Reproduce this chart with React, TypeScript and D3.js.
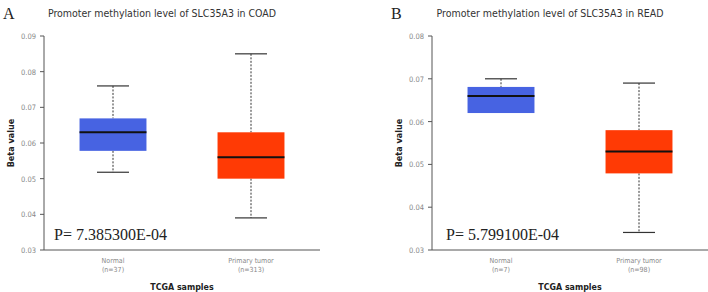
import React from "react";
import * as d3 from "d3";

const categories = ["Normal", "Primary tumor"];
const panelLetters = ["A", "B"];
const panelTitles = [
  "Promoter methylation level of SLC35A3 in COAD",
  "Promoter methylation level of SLC35A3 in READ",
];
const sampleCountsA = ["(n=37)", "(n=313)"];
const sampleCountsB = ["(n=7)", "(n=98)"];
const pValues = ["P= 7.385300E-04", "P= 5.799100E-04"];
const ticksA = [0.03, 0.04, 0.05, 0.06, 0.07, 0.08, 0.09];
const ticksB = [0.03, 0.04, 0.05, 0.06, 0.07, 0.08];
// [min, q1, median, q3, max]
const boxesA = [
  [0.0518, 0.0578, 0.0630, 0.0669, 0.0760],
  [0.0390, 0.0500, 0.0560, 0.0630, 0.0850],
];
const boxesB = [
  [0.0620, 0.0620, 0.0660, 0.0681, 0.0700],
  [0.0341, 0.0479, 0.0530, 0.0580, 0.0690],
];
const colors = ["#4763e2", "#ff3a05"];

const FONT_SANS = "'DejaVu Sans Condensed', 'DejaVu Sans', sans-serif";
const FONT_SERIF = "'Liberation Serif', 'DejaVu Serif', serif";

function Panel({ x0, letter, title, ticks, boxes, counts, pval, pX }: any) {
  const width = 276;
  const y = d3.scaleLinear().domain([ticks[0], ticks[ticks.length - 1]]).range([250, 36]);
  const x = d3.scaleBand().domain(categories).range([x0, x0 + width]).paddingInner(0.515).paddingOuter(0.2575);
  const bw = x.bandwidth();
  const capW = 32;
  return (
    <g>
      <text x={x0 - 41} y={19} fontFamily={FONT_SERIF} fontSize={16} fill="#222">{letter}</text>
      <text x={x0 + 118} y={17} textAnchor="middle" fontFamily={FONT_SANS} fontSize={10.5} fill="#333">{title}</text>
      <text transform={`translate(${x0 - 30},${143}) rotate(-90)`} textAnchor="middle" fontFamily={FONT_SANS} fontWeight="bold" fontSize={9} fill="#222">Beta value</text>
      {ticks.map((t: number) => (
        <g key={t}>
          <line x1={x0 - 4} x2={x0} y1={y(t)} y2={y(t)} stroke="#555" strokeWidth={1} />
          <text x={x0 - 8} y={y(t) + 3} textAnchor="end" fontFamily={FONT_SANS} fontSize={7.5} fill="#888">{d3.format(".2f")(t)}</text>
        </g>
      ))}
      <line x1={x0} x2={x0} y1={y(ticks[ticks.length - 1])} y2={250} stroke="#555" strokeWidth={1} />
      <line x1={x0} x2={x0 + width} y1={250} y2={250} stroke="#555" strokeWidth={1} />
      {boxes.map((b: number[], i: number) => {
        const cx = (x(categories[i]) as number) + bw / 2;
        const bx = x(categories[i]) as number;
        return (
          <g key={i}>
            {b[4] > b[3] && <line x1={cx} x2={cx} y1={y(b[4])} y2={y(b[3])} stroke="#333" strokeDasharray="2,1.5" />}
            {b[1] > b[0] && <line x1={cx} x2={cx} y1={y(b[1])} y2={y(b[0])} stroke="#333" strokeDasharray="2,1.5" />}
            <line x1={cx - capW / 2} x2={cx + capW / 2} y1={y(b[4])} y2={y(b[4])} stroke="#333" strokeWidth={1.2} />
            {b[1] > b[0] && <line x1={cx - capW / 2} x2={cx + capW / 2} y1={y(b[0])} y2={y(b[0])} stroke="#333" strokeWidth={1.2} />}
            <rect x={bx} y={y(b[3])} width={bw} height={y(b[1]) - y(b[3])} fill={colors[i]} />
            <line x1={bx} x2={bx + bw} y1={y(b[2])} y2={y(b[2])} stroke="#111" strokeWidth={2} />
            <text x={cx} y={263} textAnchor="middle" fontFamily={FONT_SANS} fontSize={7} fill="#888">{categories[i]}</text>
            <text x={cx} y={272} textAnchor="middle" fontFamily={FONT_SANS} fontSize={7} fill="#888">{counts[i]}</text>
          </g>
        );
      })}
      <text x={x0 + width / 2} y={290} textAnchor="middle" fontFamily={FONT_SANS} fontWeight="bold" fontSize={8.8} fill="#222">TCGA samples</text>
      <text x={pX} y={240} fontFamily={FONT_SERIF} fontSize={16} fill="#222">{pval}</text>
    </g>
  );
}

export default function App() {
  return (
    <svg width={708} height={292} style={{ position: "absolute", left: 0, top: 0, background: "#fff" }}>
      <rect width={708} height={292} fill="#fff" />
      <Panel x0={44} letter={panelLetters[0]} title={panelTitles[0]} ticks={ticksA} boxes={boxesA} counts={sampleCountsA} pval={pValues[0]} pX={54} />
      <Panel x0={432} letter={panelLetters[1]} title={panelTitles[1]} ticks={ticksB} boxes={boxesB} counts={sampleCountsB} pval={pValues[1]} pX={446} />
    </svg>
  );
}
